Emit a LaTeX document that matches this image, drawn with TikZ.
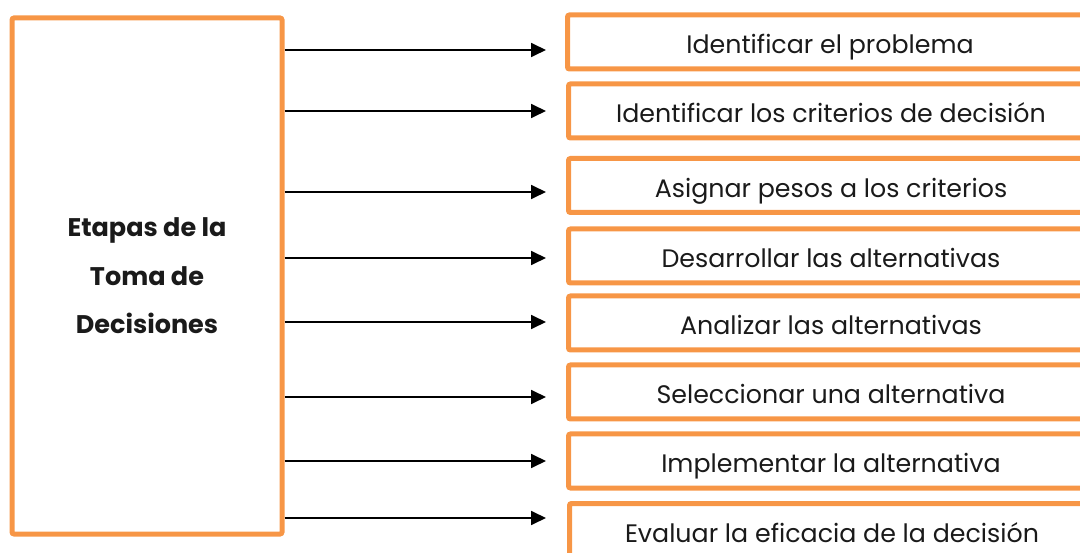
\documentclass[tikz,border=0pt]{standalone}
\usepackage{fontspec}
\setmainfont{Poppins}
\usetikzlibrary{arrows.meta}
\definecolor{orng}{HTML}{F79646}
\definecolor{ink}{HTML}{1A1A1A}
\begin{document}
\begin{tikzpicture}[x=1pt,y=-1pt,
  frame/.style={draw=orng, line width=5pt, rounded corners=2pt, inner sep=0pt},
  stepbox/.style={frame, minimum width=525pt, minimum height=54pt, anchor=north west,
    text height=24pt, text depth=0pt,
    font=\fontsize{25.3}{30}\selectfont, text=ink},
  arr/.style={-{Triangle[length=15pt,width=14pt]}, line width=1.8pt, draw=black}]
\useasboundingbox (0,0) rectangle (1080,553);
\clip (0,0) rectangle (1080,553);
\node[frame, minimum width=270pt, minimum height=516pt, align=center, text=ink,
  font=\fontsize{25.5}{48.5}\selectfont\bfseries] (L) at (147,276)
  {Etapas de la\\Toma de\\Decisiones};
\node[stepbox] (b1) at (565,12.5) {Identificar el problema};
\node[stepbox] (b2) at (566,81.5) {Identificar los criterios de decisión};
\node[stepbox] (b3) at (566,156) {Asignar pesos a los criterios};
\node[stepbox] (b4) at (566,226.5) {Desarrollar las alternativas};
\node[stepbox] (b5) at (566,293.5) {Analizar las alternativas};
\node[stepbox] (b6) at (566,362.5) {Seleccionar una alternativa};
\node[stepbox] (b7) at (566,431.5) {Implementar la alternativa};
\node[stepbox] (b8) at (567,501) {Evaluar la eficacia de la decisión};
\coordinate (a1) at (546,50);
\coordinate (a2) at (546,111);
\coordinate (a3) at (546,192);
\coordinate (a4) at (546,258);
\coordinate (a5) at (546,322);
\coordinate (a6) at (546,397);
\coordinate (a7) at (546,461);
\coordinate (a8) at (546,518);
\foreach \i in {1,...,8} \draw[arr] (L.east |- a\i) -- (a\i);
\end{tikzpicture}
\end{document}
